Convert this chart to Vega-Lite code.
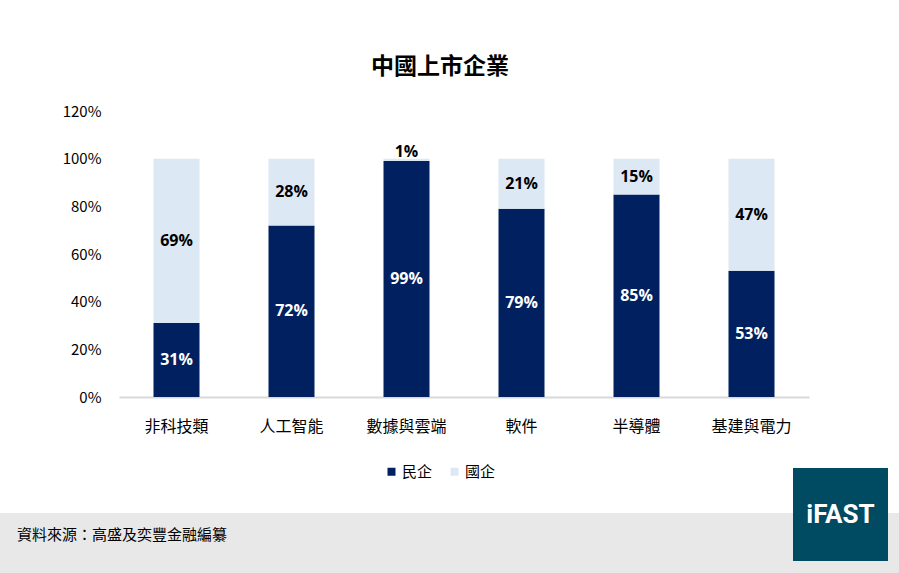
{
  "$schema": "https://vega.github.io/schema/vega-lite/v6.json",
  "description": "China listed companies: private vs state-owned share by sector",
  "background": "#ffffff",
  "padding": {"top": 56, "left": 0, "right": 0, "bottom": 0},
  "columns": 1,
  "align": "none",
  "spacing": 34,
  "config": {
    "view": {"stroke": null},
    "font": "Noto Sans CJK TC",
    "concat": {"spacing": 0},
    "axis": {"labelColor": "#000000", "labelFont": "Noto Sans CJK TC", "grid": false, "ticks": false}
  },
  "datasets": {
    "shares": [
      {"sector": "非科技類", "owner": "民企", "share": 0.31},
      {"sector": "非科技類", "owner": "國企", "share": 0.69},
      {"sector": "人工智能", "owner": "民企", "share": 0.72},
      {"sector": "人工智能", "owner": "國企", "share": 0.28},
      {"sector": "數據與雲端", "owner": "民企", "share": 0.99},
      {"sector": "數據與雲端", "owner": "國企", "share": 0.01},
      {"sector": "軟件", "owner": "民企", "share": 0.79},
      {"sector": "軟件", "owner": "國企", "share": 0.21},
      {"sector": "半導體", "owner": "民企", "share": 0.85},
      {"sector": "半導體", "owner": "國企", "share": 0.15},
      {"sector": "基建與電力", "owner": "民企", "share": 0.53},
      {"sector": "基建與電力", "owner": "國企", "share": 0.47}
    ],
    "source": [{"note": "資料來源：高盛及奕豐金融編纂"}],
    "brand": [{"name": "iFAST"}]
  },
  "concat": [
    {
      "hconcat": [
        {"width": 60, "height": 10, "data": {"values": []}, "mark": "rect", "encoding": {}},
        {
          "width": 690,
          "height": 286,
          "title": {
            "text": "中國上市企業",
            "font": "Noto Sans CJK TC",
            "fontSize": 23,
            "fontWeight": "bold",
            "color": "#000000",
            "anchor": "middle",
            "frame": "group",
            "dx": -24,
            "offset": 25
          },
          "data": {"name": "shares"},
          "transform": [
            {"stack": "share", "groupby": ["sector"], "sort": [{"field": "owner", "order": "descending"}], "as": ["lo", "hi"]},
            {"calculate": "(datum.lo + datum.hi) / 2", "as": "mid"}
          ],
          "encoding": {
            "x": {
              "field": "sector",
              "type": "nominal",
              "sort": null,
              "scale": {"paddingInner": 0.6, "paddingOuter": 0.3},
              "axis": {
                "title": null,
                "labelAngle": 0,
                "labelFontSize": 16,
                "labelPadding": 21,
                "domainColor": "#d9d9d9",
                "domainWidth": 2
              }
            }
          },
          "layer": [
            {
              "mark": {"type": "bar"},
              "encoding": {
                "y": {
                  "field": "lo",
                  "type": "quantitative",
                  "scale": {"domain": [0, 1.2], "nice": false},
                  "axis": {
                    "title": null,
                    "values": [0, 0.2, 0.4, 0.6, 0.8, 1, 1.2],
                    "format": ".0%",
                    "labelFontSize": 15,
                    "labelPadding": 18,
                    "domain": false,
                    "minExtent": 59,
                    "maxExtent": 59
                  }
                },
                "y2": {"field": "hi"},
                "color": {
                  "field": "owner",
                  "type": "nominal",
                  "scale": {"domain": ["民企", "國企"], "range": ["#002060", "#dde8f5"]},
                  "legend": {
                    "title": null,
                    "orient": "none",
                    "direction": "horizontal",
                    "legendX": 384,
                    "legendY": 353,
                    "symbolType": "square",
                    "symbolSize": 64,
                    "symbolStrokeWidth": 0,
                    "labelFontSize": 15,
                    "labelFont": "Noto Sans CJK TC",
                    "labelColor": "#000000",
                    "labelOffset": 3,
                    "columnPadding": 14
                  }
                }
              }
            },
            {
              "transform": [{"filter": "datum.share >= 0.05"}],
              "mark": {"type": "text", "font": "Open Sans", "fontWeight": "bold", "fontSize": 16},
              "encoding": {
                "y": {"field": "mid", "type": "quantitative", "axis": {"title": null}},
                "text": {"field": "share", "type": "quantitative", "format": ".0%"},
                "color": {"condition": {"test": "datum.owner === '民企'", "value": "#ffffff"}, "value": "#000000"}
              }
            },
            {
              "transform": [{"filter": "datum.share < 0.05"}],
              "mark": {"type": "text", "font": "Open Sans", "fontWeight": "bold", "fontSize": 16, "baseline": "alphabetic", "dy": -2, "color": "#000000"},
              "encoding": {
                "y": {"field": "hi", "type": "quantitative", "axis": {"title": null}},
                "text": {"field": "share", "type": "quantitative", "format": ".0%"}
              }
            }
          ]
        }
      ]
    },
    {
      "hconcat": [
        {
          "vconcat": [
            {"width": 793, "height": 45, "data": {"values": []}, "mark": "rect", "encoding": {}},
            {
              "hconcat": [
                {
                  "width": 244,
                  "height": 44,
                  "view": {"fill": "#e8e8e8", "stroke": null},
                  "data": {"name": "source"},
                  "mark": {"type": "text", "font": "Noto Sans CJK TC", "fontSize": 15, "color": "#000000"},
                  "encoding": {"text": {"field": "note", "type": "nominal"}}
                },
                {"width": 549, "height": 44, "view": {"fill": "#e8e8e8", "stroke": null}, "data": {"values": []}, "mark": "rect", "encoding": {}}
              ]
            },
            {"width": 793, "height": 16, "view": {"fill": "#e8e8e8", "stroke": null}, "data": {"values": []}, "mark": "rect", "encoding": {}}
          ]
        },
        {
          "vconcat": [
            {
              "width": 95,
              "height": 93,
              "view": {"fill": "#004a62", "stroke": null},
              "data": {"name": "brand"},
              "mark": {"type": "text", "font": "Roboto", "fontWeight": "bold", "fontSize": 26, "color": "#ffffff"},
              "encoding": {"text": {"field": "name", "type": "nominal"}}
            },
            {"width": 95, "height": 12, "view": {"fill": "#e8e8e8", "stroke": null}, "data": {"values": []}, "mark": "rect", "encoding": {}}
          ]
        },
        {
          "vconcat": [
            {"width": 11, "height": 45, "data": {"values": []}, "mark": "rect", "encoding": {}},
            {"width": 11, "height": 60, "view": {"fill": "#e8e8e8", "stroke": null}, "data": {"values": []}, "mark": "rect", "encoding": {}}
          ]
        }
      ]
    }
  ]
}
